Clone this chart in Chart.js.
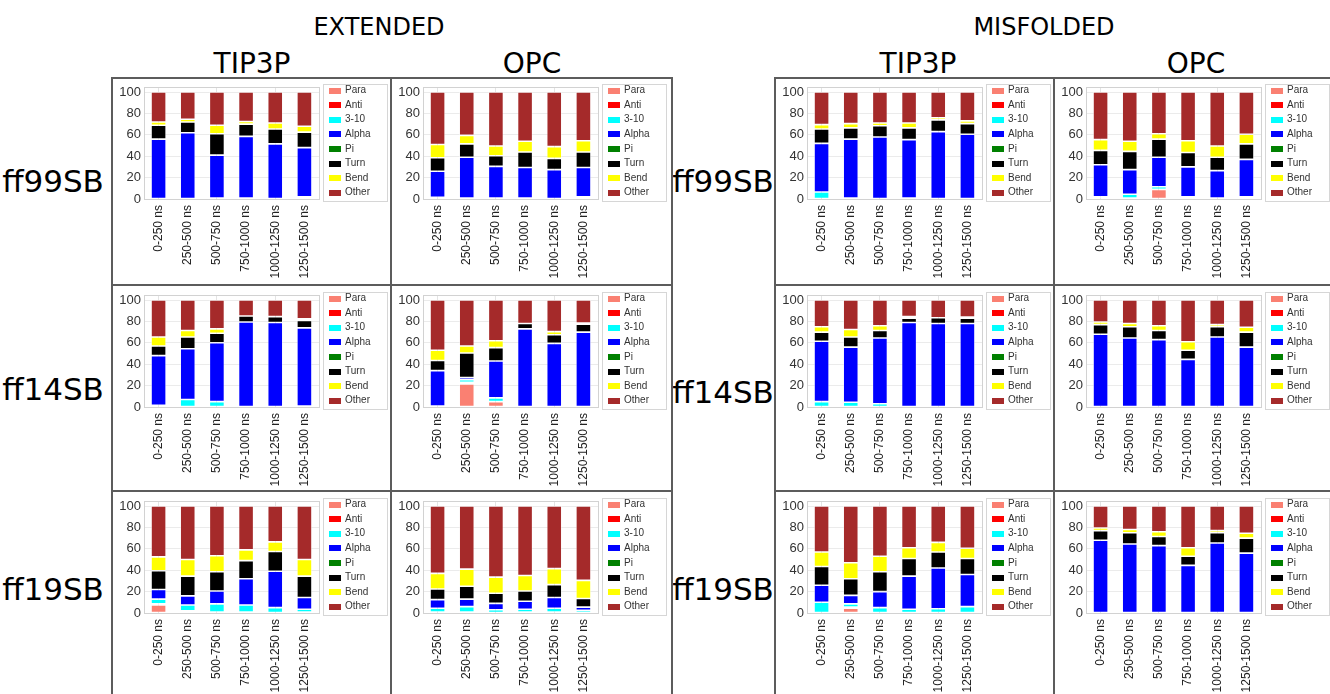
<!DOCTYPE html>
<html>
<head>
<meta charset="utf-8">
<script src="https://cdn.jsdelivr.net/npm/chart.js@4.4.1/dist/chart.umd.min.js"></script>
<style>
  html, body { margin: 0; padding: 0; background: #fff; }
  body { position: relative; width: 1330px; height: 694px; overflow: hidden; font-family: "DejaVu Sans", sans-serif; }
  .lbl { position: absolute; transform: translate(-50%, -50%); white-space: nowrap; line-height: 1; color: #000; }
  .head { font-size: 24px; }
  .sub { font-size: 28px; }
  .row { font-size: 31px; }
  .rule { position: absolute; background: #5c5c5c; }
  canvas { position: absolute; }
</style>
</head>
<body>

<div class="lbl head" style="left:379px;top:27px">EXTENDED</div>
<div class="lbl head" style="left:1044px;top:27px">MISFOLDED</div>
<div class="lbl sub" style="left:252px;top:64px">TIP3P</div>
<div class="lbl sub" style="left:532px;top:64px">OPC</div>
<div class="lbl sub" style="left:918px;top:64px">TIP3P</div>
<div class="lbl sub" style="left:1196px;top:64px">OPC</div>

<div class="lbl row" style="left:53px;top:181px">ff99SB</div>
<div class="lbl row" style="left:53px;top:389px">ff14SB</div>
<div class="lbl row" style="left:53px;top:589px">ff19SB</div>
<div class="lbl row" style="left:723px;top:181px">ff99SB</div>
<div class="lbl row" style="left:723px;top:392px">ff14SB</div>
<div class="lbl row" style="left:723px;top:589px">ff19SB</div>

<script>
// Time windows along each x axis
const categories = ['0-250 ns', '250-500 ns', '500-750 ns', '750-1000 ns', '1000-1250 ns', '1250-1500 ns'];

// Secondary-structure classes, stacked bottom to top
const seriesNames = ['Para', 'Anti', '3-10', 'Alpha', 'Pi', 'Turn', 'Bend', 'Other'];
const yTicks = [0, 20, 40, 60, 80, 100];

// Percent of residues per class; one row per class (order of seriesNames), one column per window
const extTip3pFf99SB = [
  [0, 0, 0, 0, 0, 0],
  [0, 0, 0, 0, 0, 0],
  [0.5, 0.5, 1, 1, 0.5, 2],
  [55.5, 61.5, 40, 57.5, 51, 46],
  [0, 0, 0, 0, 0, 0],
  [13, 10, 20, 11.5, 14, 14.5],
  [3, 2.5, 8, 2.5, 5.5, 5.5],
  [28, 25.5, 31, 27.5, 29, 32]
];
const extOpcFf99SB = [
  [0, 0, 0, 0, 0, 0],
  [0, 0, 0, 0, 0, 0],
  [1.5, 1, 1, 1, 0, 2],
  [24.5, 38, 29.5, 28.5, 27.5, 27.5],
  [0, 0, 0, 0, 0, 0],
  [12.5, 12.5, 10, 14.5, 10.5, 14.5],
  [12.5, 8, 9, 10, 11, 10.5],
  [49, 40.5, 50.5, 46, 51, 45.5]
];
const misTip3pFf99SB = [
  [0, 0, 0, 0, 0, 0],
  [0, 0, 0, 0, 0, 0],
  [6.5, 1, 0, 1, 0, 0],
  [45.5, 55, 58, 54.5, 63, 60.5],
  [0, 0, 0, 0, 0, 0],
  [13.5, 10.5, 10.5, 11, 11, 10],
  [4, 4, 2.5, 4.5, 2, 2.5],
  [30.5, 29.5, 29, 29, 24, 27]
];
const misOpcFf99SB = [
  [0, 1, 9, 0, 0, 0],
  [0, 0, 0, 0, 0, 0],
  [2, 3.5, 2.5, 2, 1, 2],
  [30, 23, 27.5, 28, 25.5, 35],
  [0, 0, 0, 0, 0, 0],
  [13.5, 17, 17, 13.5, 12.5, 14.5],
  [10, 9.5, 5, 11, 10.5, 9],
  [44.5, 46, 39, 45.5, 50.5, 39.5]
];
const extTip3pFf14SB = [
  [0, 0, 0, 0, 0, 0],
  [0, 0, 0, 0, 0, 0],
  [1.5, 7, 5, 0, 0, 1],
  [46.5, 47.5, 55, 79.5, 79, 73],
  [0, 0, 0, 0, 0, 0],
  [9, 11, 9, 5.5, 5.5, 7],
  [8.5, 6, 4, 0, 0, 1.5],
  [34.5, 28.5, 27, 15, 15.5, 17.5]
];
const extOpcFf14SB = [
  [0, 21.5, 5, 0, 0, 0],
  [0, 1.5, 0, 0, 0, 0],
  [1, 2.5, 3.5, 0, 0, 0.5],
  [33, 2, 34.5, 73, 59.5, 69.5],
  [0, 0, 0, 0, 0, 0],
  [9.5, 23, 12.5, 5, 8, 7.5],
  [9.5, 6.5, 6.5, 0, 3, 1],
  [47, 43, 38, 22, 29.5, 21.5]
];
const misTip3pFf14SB = [
  [0, 0, 0, 0, 0, 0],
  [0, 0, 0, 0, 0, 0],
  [5, 4.5, 3, 0, 0, 0],
  [56.5, 51.5, 61.5, 79, 78, 78],
  [0, 0, 0, 0, 0, 0],
  [8.5, 9.5, 7, 4, 5.5, 5],
  [5, 7, 4.5, 1.5, 0, 1],
  [25, 27.5, 24, 15.5, 16.5, 16]
];
const misOpcFf14SB = [
  [0, 0, 0, 0, 0, 0],
  [0, 0, 0, 0, 0, 0],
  [0, 0, 0, 0, 0, 0],
  [68, 64.5, 63, 44.5, 65.5, 56],
  [0, 0, 0, 0, 0, 0],
  [9, 10.5, 8.5, 8.5, 9.5, 14],
  [2.5, 3, 4.5, 8, 2, 4.5],
  [20.5, 22, 24, 39, 23, 25.5]
];
const extTip3pFf19SB = [
  [7.5, 1.5, 1, 1, 0, 1],
  [1, 0.5, 0, 0, 0, 0],
  [4.5, 5.5, 7.5, 6.5, 5, 2.5],
  [9, 8.5, 12, 24.5, 34, 11],
  [0, 0, 0, 0, 0, 0],
  [17.5, 18.5, 18, 17, 18.5, 20],
  [13, 15.5, 15, 10, 9, 15.5],
  [47.5, 50, 46.5, 41, 33.5, 50]
];
const extOpcFf19SB = [
  [1, 1, 0, 1, 1, 0],
  [0, 0, 0, 0, 0, 0],
  [3.5, 5, 3, 2.5, 3.5, 2.5],
  [8, 7, 6, 7.5, 10, 3],
  [0, 0, 0, 0, 0, 0],
  [10, 12, 9.5, 9.5, 12, 8],
  [14.5, 16, 15, 14.5, 15, 17],
  [63, 59, 66.5, 65, 58.5, 69.5]
];
const misTip3pFf19SB = [
  [0, 4.5, 0, 0, 0, 0],
  [0, 1, 0, 0, 0, 0],
  [10, 3, 5, 3.5, 4, 6],
  [16, 8, 15, 31, 38, 30],
  [0, 0, 0, 0, 0, 0],
  [17.5, 15.5, 18.5, 16.5, 15, 15],
  [13.5, 15, 14.5, 10, 9, 9.5],
  [43, 53, 47, 39, 34, 39.5]
];
const misOpcFf19SB = [
  [0, 0, 0, 0, 0, 0],
  [0, 0, 0, 0, 0, 0],
  [0, 0, 0, 0, 0, 0],
  [68, 64.5, 63, 44.5, 65.5, 56],
  [0, 0, 0, 0, 0, 0],
  [9, 10.5, 8.5, 8.5, 9.5, 14],
  [2.5, 3, 4.5, 8, 2, 4.5],
  [20.5, 22, 24, 39, 23, 25.5]
];

const seriesColors = ['#FA8072', '#FF0000', '#00FFFF', '#0000FF', '#008000', '#000000', '#FFFF00', '#A52A2A'];

// Panel grid: column lefts/widths and row tops
const colLeft = [112, 391, 775, 1054];
const colWidth = [279, 281, 279, 276];
const rowTop = [78, 286, 492];
const panelHeight = 206;

const panels = [
  [extTip3pFf99SB, extOpcFf99SB, misTip3pFf99SB, misOpcFf99SB],
  [extTip3pFf14SB, extOpcFf14SB, misTip3pFf14SB, misOpcFf14SB],
  [extTip3pFf19SB, extOpcFf19SB, misTip3pFf19SB, misOpcFf19SB]
];

// Light frame around the plotting area
const plotFrame = {
  id: 'plotFrame',
  beforeDatasetsDraw(chart) {
    const { ctx, chartArea: a } = chart;
    ctx.save();
    ctx.strokeStyle = '#d2d2d2';
    ctx.lineWidth = 1;
    ctx.strokeRect(Math.round(a.left) + 0.5, Math.round(a.top) + 0.5, Math.round(a.right - a.left), Math.round(a.bottom - a.top));
    ctx.restore();
  }
};

// Boxed legend to the right of the plotting area
const boxLegend = {
  id: 'boxLegend',
  afterDraw(chart) {
    const { ctx, chartArea: a } = chart;
    const x0 = Math.round(a.right) + 4;
    const y0 = 6;
    ctx.save();
    ctx.strokeStyle = '#d6d6d6';
    ctx.lineWidth = 1;
    ctx.strokeRect(x0 + 0.5, y0 + 0.5, 64, 117);
    ctx.font = '10px "Liberation Sans", Arial, sans-serif';
    ctx.textBaseline = 'middle';
    chart.data.datasets.forEach((ds, i) => {
      const cy = y0 + 6.5 + i * 14.6;
      ctx.fillStyle = ds.backgroundColor;
      ctx.fillRect(x0 + 6, Math.round(cy - 3), 12, 6);
      ctx.fillStyle = '#333';
      ctx.fillText(ds.label, x0 + 22, cy);
    });
    ctx.restore();
  }
};

function makeChart(values, left, top, width) {
  const canvas = document.createElement('canvas');
  canvas.width = width;
  canvas.height = panelHeight;
  canvas.style.left = left + 'px';
  canvas.style.top = top + 'px';
  canvas.style.width = width + 'px';
  canvas.style.height = panelHeight + 'px';
  document.body.appendChild(canvas);

  new Chart(canvas, {
    type: 'bar',
    data: {
      labels: categories,
      datasets: seriesNames.map((name, i) => ({
        label: name,
        data: values[i],
        backgroundColor: seriesColors[i],
        borderColor: 'rgba(255,255,255,0.55)',
        borderWidth: 0.8,
        borderSkipped: false,
        barPercentage: 0.52,
        categoryPercentage: 1
      }))
    },
    options: {
      responsive: false,
      animation: false,
      devicePixelRatio: 1,
      layout: { padding: { top: 9, right: width - 207, left: 0, bottom: 0 } },
      plugins: { legend: { display: false }, tooltip: { enabled: false } },
      scales: {
        x: {
          stacked: true,
          grid: {
            offset: false,
            drawTicks: false,
            color: (c) => (c.index % 2 === 0 ? '#e4e4e4' : 'rgba(0,0,0,0)')
          },
          border: { display: false },
          ticks: {
            autoSkip: false,
            minRotation: 90,
            maxRotation: 90,
            padding: 6,
            color: '#222',
            font: { family: '"Liberation Sans", Arial, sans-serif', size: 12 }
          },
          afterFit: (s) => { s.height = 85; s.paddingLeft = 0; s.paddingRight = 0; }
        },
        y: {
          stacked: true,
          min: 0,
          max: 104.7,
          afterBuildTicks: (s) => { s.ticks = yTicks.map((v) => ({ value: v })); },
          grid: { drawTicks: false, color: '#ebebeb' },
          border: { display: false },
          ticks: {
            padding: 3,
            color: '#333',
            font: { family: '"Liberation Sans", Arial, sans-serif', size: 13 }
          },
          afterFit: (s) => { s.width = 32; s.paddingTop = 0; s.paddingBottom = 0; }
        }
      }
    },
    plugins: [plotFrame, boxLegend]
  });
}

panels.forEach((row, r) => {
  row.forEach((values, c) => makeChart(values, colLeft[c], rowTop[r], colWidth[c]));
});

// Dark rules separating the panels
function rule(x, y, w, h) {
  const d = document.createElement('div');
  d.className = 'rule';
  d.style.left = x + 'px';
  d.style.top = y + 'px';
  d.style.width = w + 'px';
  d.style.height = h + 'px';
  document.body.appendChild(d);
}
[112, 391, 672, 775, 1054].forEach((x) => rule(x - 1, 78, 2, 616));
[78, 285, 491].forEach((y) => { rule(111, y - 1, 562, 2); rule(774, y - 1, 556, 2); });
</script>
</body>
</html>
